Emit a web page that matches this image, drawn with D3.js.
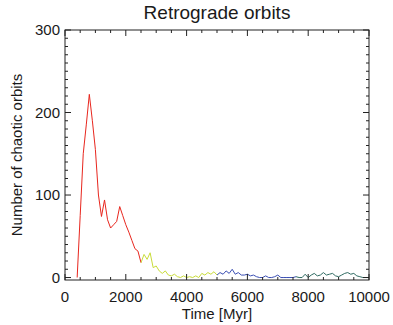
<!DOCTYPE html>
<html>
<head>
<meta charset="utf-8">
<script src="https://cdn.jsdelivr.net/npm/d3@7"></script>
<style>
  body { margin: 0; background: #fff; }
  text { font-family: "Liberation Sans", Arial, sans-serif; fill: #1a1a1a; }
</style>
</head>
<body>
<div id="chart"></div>
<script>
const width = 393;
const height = 325;

// data: counts every 100 Myr
const times = d3.range(400, 10001, 100);
const counts = [
  0, 75, 150, 185, 222, 190,
  155, 100, 74, 94, 70, 60, 64, 68, 86, 75,
  64, 55, 45, 35, 32, 18, 28, 22, 30, 12,
  14, 8, 5, 8, 3, 2, 4, 1, 0, 2,
  0, 1, 0, 2, 0, 5, 3, 6, 4, 7,
  3, 6, 4, 8, 5, 10, 4, 6, 3, 3,
  4, 2, 3, 1, 0, 0, 2, 0, 0, 1,
  3, 0, 0, 0, 0, 0, 1, 0, 0, 4,
  0, 3, 5, 2, 3, 6, 3, 4, 5, 2,
  1, 3, 5, 6, 4, 5, 2, 1, 0, 0,
  0
];
// colour pieces of the curve
const segStart = [0, 2500, 5000, 7600];
const segEnd = [2500, 5000, 7600, 10000];
const segColor = ['#e8261e', '#c9dc3a', '#3b4fb3', '#2f6b62'];

const xTicks = [0, 2000, 4000, 6000, 8000, 10000];
const yTicks = [0, 100, 200, 300];

const mLeft = 65, mRight = 369, mTop = 30, mBottom = 280;

const svg = d3.select('#chart').append('svg')
  .attr('width', width)
  .attr('height', height);

const x = d3.scaleLinear().domain([0, 10000]).range([mLeft, mRight]);
const y = d3.scaleLinear().domain([-3, 300]).range([mBottom, mTop]);

// curve
const pts = times.map((t, i) => ({ t: t, v: counts[i] }));
const line = d3.line().x(d => x(d.t)).y(d => y(d.v));
segStart.forEach((s, k) => {
  svg.append('path')
    .datum(pts.filter(d => d.t >= s && d.t <= segEnd[k]))
    .attr('d', line)
    .attr('fill', 'none')
    .attr('stroke', segColor[k])
    .attr('stroke-width', 1);
});

// frame
svg.append('rect')
  .attr('x', mLeft).attr('y', mTop)
  .attr('width', mRight - mLeft).attr('height', mBottom - mTop)
  .attr('fill', 'none')
  .attr('stroke', '#222')
  .attr('stroke-width', 1);

// ticks on all sides, pointing inward
const g = svg.append('g').attr('stroke', '#222').attr('stroke-width', 1);
d3.range(0, 10001, 500).forEach(t => {
  const len = t % 2000 === 0 ? 6 : 3;
  g.append('line').attr('x1', x(t)).attr('x2', x(t)).attr('y1', mBottom).attr('y2', mBottom - len);
  g.append('line').attr('x1', x(t)).attr('x2', x(t)).attr('y1', mTop).attr('y2', mTop + len);
});
d3.range(0, 301, 10).forEach(v => {
  const len = v % 100 === 0 ? 6 : 3;
  g.append('line').attr('y1', y(v)).attr('y2', y(v)).attr('x1', mLeft).attr('x2', mLeft + len);
  g.append('line').attr('y1', y(v)).attr('y2', y(v)).attr('x1', mRight).attr('x2', mRight - len);
});

// tick labels
svg.selectAll('.xl').data(xTicks).enter().append('text')
  .attr('x', d => x(d))
  .attr('y', 302)
  .attr('text-anchor', 'middle')
  .style('font-size', '15px')
  .text(d => d);

svg.selectAll('.yl').data(yTicks).enter().append('text')
  .attr('x', mLeft - 5)
  .attr('y', d => y(d) + 5)
  .attr('text-anchor', 'end')
  .style('font-size', '15px')
  .text(d => d);

// titles
svg.append('text')
  .attr('x', 217).attr('y', 19)
  .attr('text-anchor', 'middle')
  .style('font-size', '19px')
  .text('Retrograde orbits');

svg.append('text')
  .attr('x', 217).attr('y', 319)
  .attr('text-anchor', 'middle')
  .style('font-size', '15px')
  .text('Time [Myr]');

svg.append('text')
  .attr('transform', 'translate(22,155) rotate(-90)')
  .attr('text-anchor', 'middle')
  .style('font-size', '15px')
  .text('Number of chaotic orbits');
</script>
</body>
</html>
